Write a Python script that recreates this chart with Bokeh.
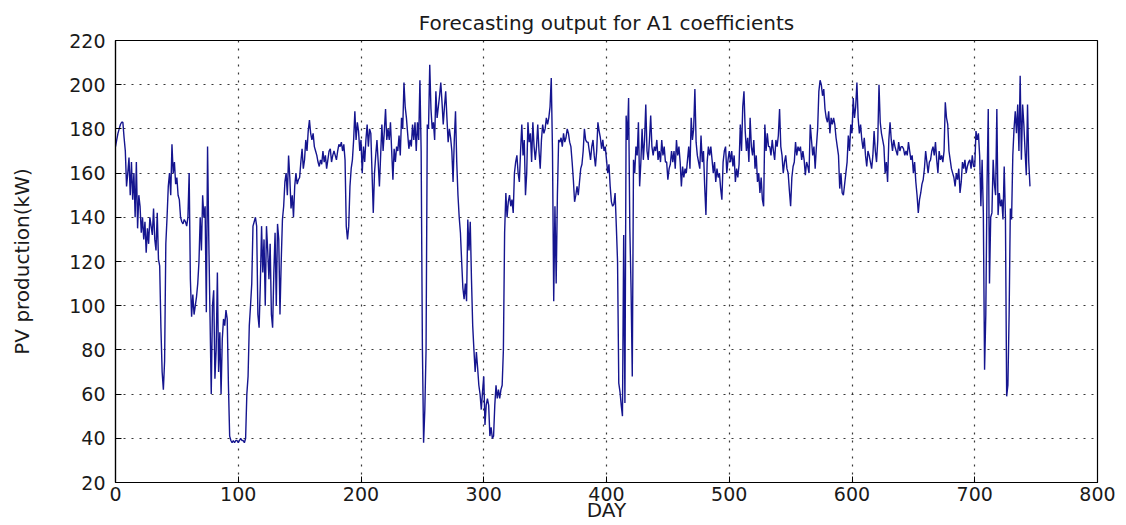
from bokeh.plotting import figure
from bokeh.models import Range1d, SingleIntervalTicker, ColumnDataSource
from bokeh.embed import file_html
from bokeh.resources import INLINE

title_text = "Forecasting output for A1 coefficients"
x_label = "DAY"
y_label = "PV production(kW)"

# PV production (kW) per day, starting at day 0
kw = [
    172,175,178,180,182,183,183,176,170,154,
    160,167,150,165,148,160,140,165,135,150,
    145,133,140,130,138,124,135,128,140,136,
    132,144,130,125,142,121,118,90,70,62,
    75,128,140,154,160,150,173,160,165,155,
    158,150,148,140,138,137,139,138,136,140,
    160,112,95,105,96,100,104,110,120,140,
    125,150,140,145,97,172,130,95,60,100,
    107,67,80,115,70,88,60,85,94,91,
    98,94,64,41,39,38,39,38,39,39,
    38,39,40,39,39,38,40,60,68,91,
    100,110,136,138,140,136,96,90,110,136,
    115,130,100,136,125,112,128,96,90,115,
    133,100,137,130,96,120,139,145,156,160,
    150,168,158,144,150,140,154,160,155,157,
    158,165,171,162,166,175,170,179,184,178,
    175,178,172,170,168,165,163,166,164,170,
    165,168,162,166,170,171,165,168,170,168,
    166,170,173,172,174,170,173,166,136,130,
    136,154,162,166,175,188,175,183,179,170,
    175,160,172,165,175,182,172,180,178,160,
    142,160,168,175,165,154,168,182,170,179,
    189,175,180,175,183,170,157,171,165,172,
    170,177,168,185,180,201,190,185,178,171,
    175,172,182,175,183,170,183,175,202,170,
    82,38,53,80,182,180,209,189,180,183,
    175,197,185,190,195,201,192,182,190,197,
    185,174,180,176,170,156,175,188,165,150,
    140,133,120,108,103,110,102,139,125,138,
    112,91,80,70,79,72,64,60,53,61,
    68,46,55,58,55,41,45,40,41,55,
    64,58,62,58,62,64,80,133,151,140,
    147,150,145,148,142,160,165,168,160,156,
    170,182,168,175,150,160,183,174,178,165,
    183,172,166,172,182,170,162,175,182,178,
    180,185,182,185,190,203,170,102,145,110,
    150,175,174,176,172,178,174,176,180,178,
    174,172,165,157,147,150,154,150,156,162,
    164,170,180,175,174,174,170,166,172,175,
    168,163,170,183,179,176,171,175,170,172,
    166,160,164,154,147,145,146,151,136,120,
    65,61,55,50,132,56,186,175,194,135,
    108,68,166,160,172,168,183,154,165,180,
    166,175,191,170,166,175,186,172,168,172,
    170,175,166,170,165,175,168,172,165,165,
    157,162,164,170,165,170,162,175,168,172,
    165,154,163,158,162,160,166,172,162,185,
    175,180,198,174,168,165,162,177,165,170,
    154,141,165,172,168,172,166,160,165,156,
    162,158,160,153,148,165,170,172,160,166,
    170,165,170,163,168,156,162,158,164,182,
    170,190,197,179,170,176,165,185,172,168,
    175,162,168,156,160,151,158,148,145,182,
    170,178,172,172,168,175,170,166,175,172,
    177,189,172,168,160,165,168,162,160,152,
    145,158,163,165,174,168,172,170,172,166,
    170,166,159,165,163,160,182,175,168,172,
    162,172,180,197,202,200,195,198,189,185,
    183,188,178,185,182,185,182,176,172,168,
    153,160,151,150,155,160,165,177,170,182,
    178,194,185,190,201,185,178,182,175,171,
    176,168,163,170,168,165,162,168,179,170,
    165,175,200,183,178,175,172,160,165,156,
    175,183,175,170,175,172,170,168,174,170,
    172,172,171,168,170,168,174,170,166,168,
    160,165,156,150,142,148,151,155,157,162,
    170,165,160,165,166,170,172,168,174,166,
    160,170,166,168,165,170,192,185,182,170,
    166,162,160,158,154,160,157,162,151,156,
    165,162,166,160,163,165,166,162,168,163,
    163,179,175,178,168,145,166,142,71,96,
    154,189,110,140,142,166,155,150,189,141,
    151,145,148,139,163,140,59,64,96,144,
    139,168,180,188,178,191,170,204,166,191,
    182,170,159,191,165,154,
]
day = list(range(len(kw)))

x_start, x_end, x_step = 0, 800, 100
y_start, y_end, y_step = 20, 220, 20

FONT = "DejaVu Sans"

p = figure(width=1126, height=525, output_backend="svg", toolbar_location=None,
           x_range=Range1d(x_start, x_end), y_range=Range1d(y_start, y_end),
           min_border_left=115, min_border_right=29, min_border_top=40, min_border_bottom=43,
           background_fill_color="white", border_fill_color="white")

p.title.text = title_text
p.title.align = "center"
p.title.text_font = FONT
p.title.text_font_style = "normal"
p.title.text_font_size = "20px"
p.title.text_color = "#1a1a1a"
p.title.standoff = 12

src = ColumnDataSource(data=dict(day=day, kw=kw))
p.line("day", "kw", source=src, line_color="#15158f", line_width=1.4)

xt = SingleIntervalTicker(interval=x_step)
yt = SingleIntervalTicker(interval=y_step)
p.xaxis.ticker = xt
p.yaxis.ticker = yt

for ax in (p.xaxis[0], p.yaxis[0]):
    ax.major_tick_in = 6
    ax.major_tick_out = 0
    ax.minor_tick_in = 0
    ax.minor_tick_out = 0
    ax.axis_line_color = "black"
    ax.axis_line_width = 1.2
    ax.major_tick_line_color = "black"
    ax.major_label_text_font = FONT
    ax.major_label_text_font_size = "19px"
    ax.major_label_text_color = "#1a1a1a"
    ax.axis_label_text_font = FONT
    ax.axis_label_text_font_style = "normal"
    ax.axis_label_text_color = "#1a1a1a"

p.xaxis.axis_label = x_label
p.xaxis.axis_label_text_font_size = "20px"
p.xaxis.major_label_standoff = 4
p.xaxis.axis_label_standoff = -6

p.yaxis.axis_label = y_label
p.yaxis.axis_label_text_font_size = "20px"
p.yaxis.major_label_standoff = 10
p.yaxis.axis_label_standoff = 32

p.xgrid.ticker = xt
p.ygrid.ticker = yt
for g in (p.xgrid[0], p.ygrid[0]):
    g.grid_line_color = "#222222"
    g.grid_line_dash = "2 6"
    g.grid_line_width = 1.2
    g.grid_line_alpha = 0.9

p.outline_line_color = "black"
p.outline_line_width = 1.2

open("out.html", "w").write(file_html(p, INLINE))
